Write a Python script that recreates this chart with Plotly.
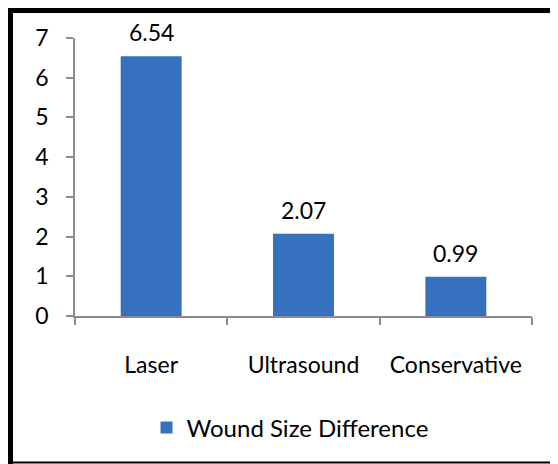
import plotly.graph_objects as go

categories = ["Laser", "Ultrasound", "Conservative"]
values = [6.54, 2.07, 0.99]
value_labels = ["6.54", "2.07", "0.99"]
series_name = "Wound Size Difference"

# page is offset by the 8px body margin
OFF = 8
W, H = 550, 456
L, R, T, B = 67, 26, 30, 148
pw, ph = W - L - R, H - T - B

def px(x):
    return (x - OFF - L) / pw

def py(y):
    return (H - B - (y - OFF)) / ph

fig = go.Figure()
fig.add_trace(go.Bar(
    x=categories, y=values, name=series_name,
    marker=dict(color="#3571BE", line=dict(width=0)),
    showlegend=True,
))

for c, v, t in zip(categories, values, value_labels):
    fig.add_annotation(x=c, y=v, text=t, showarrow=False, yanchor="bottom",
                       yshift=8, font=dict(size=23, color="#000000"))

axis_color = "#8C8C8C"
fig.update_layout(
    width=W, height=H,
    margin=dict(l=L, r=R, t=T, b=B, pad=0),
    paper_bgcolor="white", plot_bgcolor="white",
    font=dict(family="Lato, Carlito, 'Open Sans', sans-serif", size=23, color="#000000"),
    bargap=0.6,
    xaxis=dict(
        showline=True, linecolor=axis_color, linewidth=1.5,
        ticks="outside", ticklen=7, tickcolor=axis_color, tickwidth=1.5,
        tickson="boundaries", ticklabelstandoff=28,
        showgrid=False, zeroline=False,
    ),
    yaxis=dict(
        range=[0, 7], dtick=1, showline=True, linecolor=axis_color, linewidth=1.5,
        ticks="outside", ticklen=7, tickcolor=axis_color, tickwidth=1.5,
        ticklabelstandoff=13, showgrid=False, zeroline=False,
    ),
    legend=dict(
        orientation="h", x=px(290), xanchor="center", y=py(428), yanchor="middle",
        font=dict(size=24), itemwidth=30, bgcolor="rgba(0,0,0,0)",
    ),
    shapes=[
        dict(type="line", xref="paper", yref="paper", x0=px(7), x1=px(W + 40),
             y0=py(10.5), y1=py(10.5), line=dict(color="black", width=5)),
        dict(type="line", xref="paper", yref="paper", x0=px(10.5), x1=px(10.5),
             y0=py(8), y1=py(H + 40), line=dict(color="black", width=5)),
        dict(type="line", xref="paper", yref="paper", x0=px(7), x1=px(W + 40),
             y0=py(462.5), y1=py(462.5), line=dict(color="black", width=2)),
    ],
)

fig.write_html("out.html")
